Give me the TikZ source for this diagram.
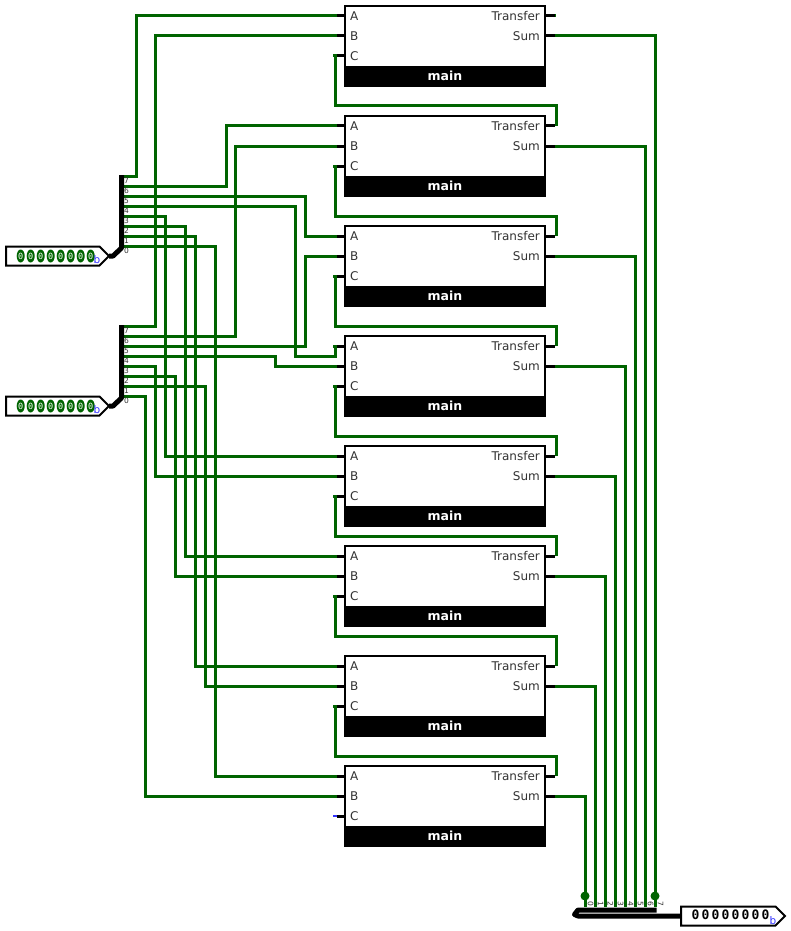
\documentclass[tikz,border=0pt]{standalone}
\usepackage{fontspec}
\setmainfont{DejaVu Sans}
\newfontfamily\monofont{DejaVu Sans Mono}
\usepackage{xcolor}
\usepackage{tikz}
\usetikzlibrary{positioning,calc,shapes.symbols,shapes.geometric}
\definecolor{WireGreen}{HTML}{006400}
\definecolor{RadixBlue}{HTML}{3333FF}
\definecolor{PinGray}{HTML}{333333}
\tikzset{
  wire/.style={draw=WireGreen,line width=3pt},
  stub/.style={draw=black,line width=3pt},
  bus/.style={draw=black,line width=5pt,line join=round},
  adderbox/.style={rectangle,draw=black,fill=white,line width=2pt,outer sep=0pt,minimum width=200pt,minimum height=80pt,anchor=north west,inner sep=0pt},
  band/.style={rectangle,fill=black,minimum width=202pt,minimum height=20.5pt,inner sep=0pt,outer sep=0pt},
  bandtext/.style={text=white,inner sep=0pt,font=\fontsize{12.5}{13}\selectfont\bfseries},
  pinL/.style={font=\fontsize{12}{12}\selectfont,text=PinGray,inner sep=0pt,anchor=west},
  pinR/.style={font=\fontsize{12}{12}\selectfont,text=PinGray,inner sep=0pt,anchor=east},
  idx/.style={font=\fontsize{7.5}{8}\selectfont,text=PinGray,inner sep=0pt},
  inpin/.style={signal,signal to=east,signal pointer angle=90,draw=black,fill=white,line width=2pt,inner sep=0pt,outer sep=0pt,minimum height=19pt,anchor=west},
  zerobit/.style={ellipse,fill=WireGreen,text=white,minimum width=8pt,minimum height=13pt,inner sep=0pt,font=\monofont\fontsize{8.5}{9}\selectfont},
  outbit/.style={inner sep=0pt,font=\monofont\bfseries\fontsize{13}{13}\selectfont},
  radix/.style={font=\fontsize{10.5}{10}\selectfont,text=RadixBlue,inner sep=0pt}
}
\begin{document}
\begin{tikzpicture}[x=1pt,y=-1pt]
  \useasboundingbox (0,0) rectangle (790,931);
  % pins
  \foreach \n/\top in {1/6,2/116,3/226,4/336,5/446,6/546,7/656,8/766}{
    \coordinate (a\n) at (345,\top+10);
    \coordinate (b\n) at (345,\top+30);
    \coordinate (c\n) at (333,\top+50);
    \coordinate (t\n) at (556,\top+10);
    \coordinate (s\n) at (552,\top+30);
  }
  \foreach \i in {0,...,7}{
    \coordinate (pa\i) at (122,246-10*\i);
    \coordinate (pb\i) at (122,396-10*\i);
    \coordinate (q\i) at (585+10*\i,907);
  }
  % bits of the first input
  \draw[wire] (pa7)-|(136,16)--(a1);
  \draw[wire] (pa6)-|(226,126)--(a2);
  \draw[wire] (pa5)-|(305,236)--(a3);
  \draw[wire] (pa4)-|(295,356)--(335,356)--(335,346)--(333,346);
  \draw[wire] (pa3)-|(165,456)--(a5);
  \draw[wire] (pa2)-|(185,556)--(a6);
  \draw[wire] (pa1)-|(195,666)--(a7);
  \draw[wire] (pa0)-|(215,776)--(a8);
  % bits of the second input
  \draw[wire] (pb7)-|(155,36)--(b1);
  \draw[wire] (pb6)-|(235,146)--(b2);
  \draw[wire] (pb5)-|(305,256)--(b3);
  \draw[wire] (pb4)-|(275,366)--(b4);
  \draw[wire] (pb3)-|(155,476)--(b5);
  \draw[wire] (pb2)-|(175,576)--(b6);
  \draw[wire] (pb1)-|(205,686)--(b7);
  \draw[wire] (pb0)-|(145,796)--(b8);
  % carry chain
  \foreach \n/\m/\y in {2/1/106,3/2/216,4/3/326,5/4/436,6/5/536,7/6/636,8/7/756}{
    \draw[wire] (t\n)--(556,\y)--(335,\y)|-(c\m);
  }
  \draw[wire] (552,16)--(t1);
  \draw[draw=RadixBlue,line width=2pt] (c8)--(338,816);
  % sums
  \foreach \n/\i in {1/7,2/6,3/5,4/4,5/3,6/2,7/1,8/0}{
    \draw[wire] (s\n)-|(q\i);
  }
  \fill[WireGreen] (q0)+(0,-11) circle (4.5pt);
  \fill[WireGreen] (q7)+(0,-11) circle (4.5pt);
  % adders
  \foreach \n/\top in {1/6,2/116,3/226,4/336,5/446,6/546,7/656,8/766}{
    \draw[stub] (337,\top+10)--(345,\top+10);
    \draw[stub] (337,\top+30)--(345,\top+30);
    \draw[stub] (337,\top+50)--(345,\top+50);
    \draw[stub] (546,\top+10)--(554.5,\top+10);
    \draw[stub] (546,\top+30)--(554.5,\top+30);
    \node[adderbox] (add\n) at (345,\top) {};
    \node[band] (m\n) at (445,\top+70.5) {};
    \node[bandtext] at (445,\top+69.5) {main};
    \node[pinL] at (350,\top+10) {A};
    \node[pinL] at (350,\top+30) {B};
    \node[pinL] at (350,\top+50) {C};
    \node[pinR] at (540,\top+10) {Transfer};
    \node[pinR] at (540,\top+30) {Sum};
  }
  % input pins
  \foreach \p/\y in {a/256,b/406}{
    \node[inpin,minimum width=103pt] (in\p) at (6,\y) {};
    \draw[bus] (in\p.east)--(113,\y)--(121.5,\y-8)--(121.5,\y-81);
    \foreach \i in {0,...,7}{
      \node[zerobit] at (20.7+10*\i,\y) {0};
      \node[idx] at (126.5,\y-5.5-10*\i) {\i};
    }
    \node[radix] at (97,\y+4) {b};
  }
  % output pin
  \node[inpin,minimum width=104pt] (out) at (681,916) {};
  \draw[bus] (out.west)--(578,916)--(574.5,914.5)--(578,910)--(656.5,910);
  \foreach \i in {0,...,7}{
    \node[idx,rotate=-90] at (590.5+10*\i,904) {\i};
    \node[outbit] at (695.5+10*\i,914.5) {0};
  }
  \node[radix] at (773,920.5) {b};
\end{tikzpicture}
\end{document}
